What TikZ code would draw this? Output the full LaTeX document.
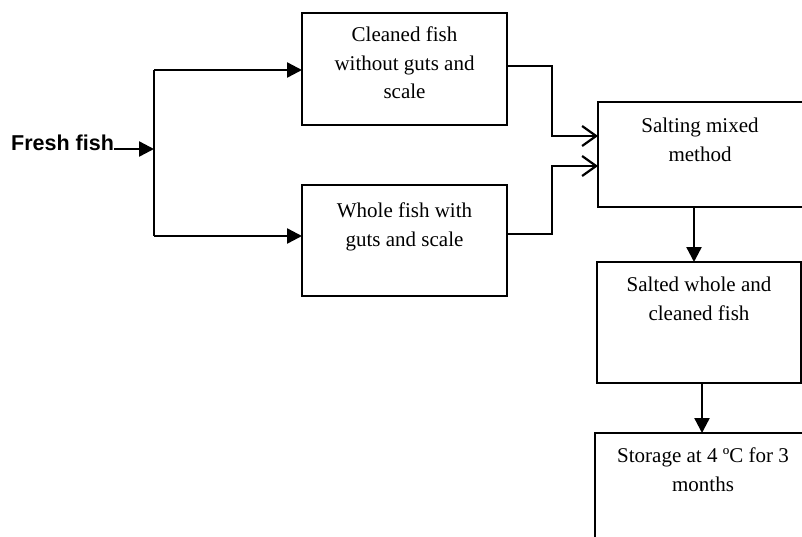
\documentclass[tikz,border=0pt]{standalone}
\usepackage{fontspec}
\setmainfont{Liberation Serif}
\newfontfamily\arialfont{Liberation Sans}
\usetikzlibrary{arrows.meta}
\begin{document}
\begin{tikzpicture}[x=1pt,y=-1pt,
  box/.style={draw, line width=2pt, inner sep=0pt, outer sep=0pt},
  txt/.style={anchor=north, align=center, inner sep=0pt, font=\fontsize{21}{28.5}\selectfont},
  line/.style={line width=2.4pt},
  fillarr/.style={line width=2.4pt, -{Triangle[length=15pt,width=15pt]}},
  openarr/.style={line width=2.2pt, -{Straight Barb[length=14pt,width=20pt]}}]
\useasboundingbox (0,0) rectangle (802,536);
\clip (0,0) rectangle (802,536);
% boxes
\node[box, minimum width=205pt, minimum height=112pt] (c1) at (404.5,69) {};
\node[box, minimum width=205pt, minimum height=111pt] (c2) at (404.5,240.5) {};
\node[box, minimum width=210pt, minimum height=105pt] (sm) at (703,154.5) {};
\node[box, minimum width=204pt, minimum height=121pt] (sw) at (699,322.5) {};
\node[box, minimum width=212pt, minimum height=120pt] (st) at (701,493) {};
% texts
\node[txt] (t1) at (404.5,21.7) {\strut Cleaned fish\\without guts and\\scale};
\node[txt] (t2) at (404.5,197.7) {\strut Whole fish with\\guts and scale};
\node[txt] (t3) at (700,112.7) {\strut Salting mixed\\method};
\node[txt] (t4) at (699,271.7) {\strut Salted whole and\\cleaned fish};
\node[txt] (t5) at (703,442.7) {\strut Storage at 4 ºC for 3\\months};
\node[anchor=base west, inner sep=0pt, font=\arialfont\bfseries\fontsize{21.5}{25}\selectfont] (ff) at (11,150) {Fresh fish};
% connectors
\coordinate (top) at (154,70);
\coordinate (mid) at (154,149);
\coordinate (bot) at (154,236);
\coordinate (j1) at (552,136);
\coordinate (j2) at (552,166);
\coordinate (a1) at (694,0);
\coordinate (a2) at (702,0);
\draw[fillarr] (ff.base east |- mid) -- (mid);
\draw[line] (top) -- (bot);
\draw[fillarr] (top) -- (top -| c1.west);
\draw[fillarr] (bot) -- (bot -| c2.west);
\draw[openarr] ([yshift=3pt]c1.east) -| (j1) -- (j1 -| sm.west);
\draw[openarr] ([yshift=6.5pt]c2.east) -| (j2) -- (j2 -| sm.west);
\draw[fillarr] (sm.south -| a1) -- (sw.north -| a1);
\draw[fillarr] (sw.south -| a2) -- (st.north -| a2);
\end{tikzpicture}
\end{document}
